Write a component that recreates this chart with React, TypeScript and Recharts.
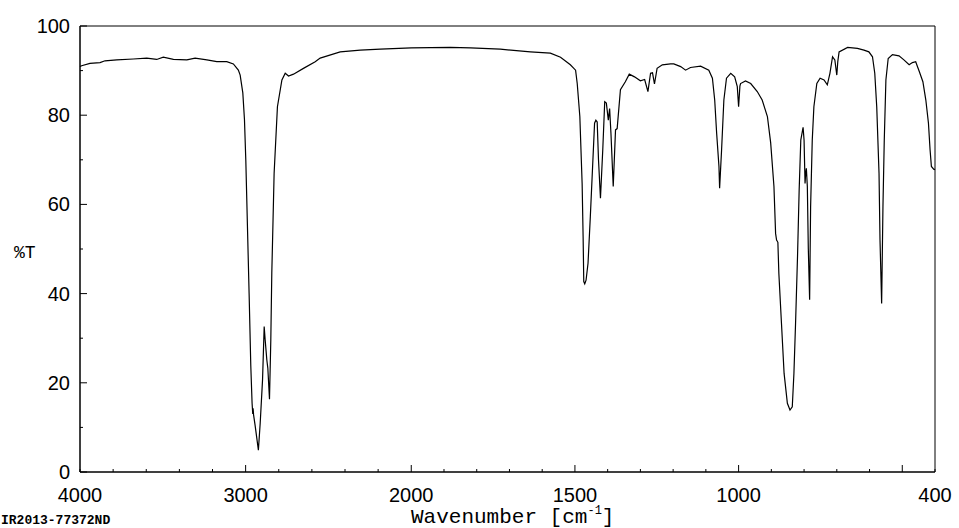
import { LineChart, Line, XAxis, YAxis, ReferenceArea } from "recharts";

// IR spectrum: [wavenumber cm-1, %T]
const baselineHigh: [number, number][] = [
  [4000, 90.9], [3990, 91.1], [3940, 91.6], [3879, 91.8], [3849, 92.2], [3778, 92.4],
  [3678, 92.6], [3597, 92.8], [3537, 92.5], [3497, 93.0], [3436, 92.5], [3355, 92.4],
  [3305, 92.8], [3234, 92.4], [3174, 92.0], [3114, 92.0], [3074, 91.5], [3044, 90.1],
];

const chStretch: [number, number][] = [
  [3033, 89], [3017, 85], [3007, 79], [2999, 70], [2989, 55], [2979, 40], [2969, 24],
  [2961, 15.4], [2957, 13.0], [2955, 14.3], [2952, 12.8], [2943, 10.5], [2923, 4.9],
  [2912, 11], [2898, 20.6], [2888, 32.6], [2882, 29.6], [2872, 25.1], [2866, 23.3],
  [2856, 16.3], [2848, 29.6], [2842, 44.6], [2828, 67], [2808, 81.9], [2781, 87.9],
  [2761, 89.4], [2741, 88.8], [2711, 89.2], [2651, 90.5], [2580, 92.0],
];

const midRange: [number, number][] = [
  [2550, 92.8], [2429, 94.2], [2308, 94.6], [2187, 94.8], [2000, 95.1], [1881, 95.2],
  [1819, 95.1], [1728, 94.8], [1636, 94.2], [1575, 93.9], [1544, 93.0], [1514, 91.3],
  [1498, 90.1],
];

const bendRegion: [number, number][] = [
  [1493, 87.1], [1485, 79.7], [1478, 64.7], [1475, 52.8], [1473, 42.7], [1470, 42.2],
  [1466, 43], [1460, 46.8], [1453, 57.2], [1446, 68.5], [1440, 78.2], [1436, 78.9],
  [1432, 78.5], [1428, 70], [1422, 61.4], [1415, 72.2], [1409, 83.0], [1404, 82.7],
  [1398, 78.9], [1394, 81.5], [1390, 76], [1383, 64.0], [1376, 76.7], [1371, 77],
  [1361, 85.7], [1346, 87.5], [1334, 89.2], [1318, 88.6], [1300, 87.7], [1287, 88],
  [1277, 85.3], [1269, 89.4], [1263, 89.5], [1257, 87], [1249, 90.5], [1233, 91.3],
  [1208, 91.5],
];

const midFingerprint: [number, number][] = [
  [1198, 91.5], [1177, 90.9], [1162, 90.1], [1147, 90.7], [1116, 91.0], [1091, 90.1],
  [1080, 88.3], [1073, 83.4], [1067, 75.9], [1060, 68.5], [1058, 63.6], [1052, 72.2],
  [1045, 83.4], [1037, 88.3], [1024, 89.4], [1012, 88.6], [1004, 86.4], [1000, 81.9],
  [996, 86.5], [994, 87.1], [979, 87.7], [963, 87.1], [943, 85.3], [928, 83.4],
  [912, 79.7], [902, 73.8], [892, 64],
];

const lowFingerprint: [number, number][] = [
  [887, 53.5], [884, 52], [880, 51.5], [877, 44.5], [869, 33.3], [861, 22.1], [851, 15.4],
  [843, 13.9], [836, 14.6], [831, 22.1], [826, 33.3], [820, 48.3], [815, 63.2], [810, 74.4],
  [803, 77.3], [800, 74.4], [797, 64.7], [795, 67], [793, 68.1], [790, 64], [787, 50],
  [783, 38.6], [780, 59.5], [775, 74.4], [770, 81.9], [761, 87.1], [751, 88.3], [739, 87.9],
  [729, 86.8], [721, 89.4], [713, 93.1], [706, 92.4], [700, 89], [697, 92], [693, 94.2],
  [667, 95.2], [637, 95.0], [617, 94.6], [602, 94.2], [591, 93.1], [584, 89.4], [578, 81.9],
  [571, 67], [568, 52], [563, 37.8], [559, 59.5], [555, 74.4], [550, 87.9], [543, 92.7],
  [530, 93.6], [510, 93.3], [495, 92.4], [479, 91.3], [469, 91.8], [459, 92.0], [448, 89.8],
  [437, 87.5], [428, 83.4], [420, 78.2], [415, 72.2], [411, 68.5], [404, 67.9], [400, 67.8],
];

const xTicksWn: number[] = [
  4000, 3800, 3600, 3400, 3200, 3000, 2800, 2600, 2400, 2200, 2000,
  1900, 1800, 1700, 1600, 1500, 1400, 1300, 1200, 1100, 1000,
  900, 800, 700, 600, 500, 400,
];
const xMajor = [3000, 2000, 1500, 1000, 500];
const xLabels = [4000, 3000, 2000, 1500, 1000, 400];

const yTicks = [0, 10, 20, 30, 40, 50, 60, 70, 80, 90, 100];
const yLabels = [0, 20, 40, 60, 80, 100];

// the instrument halves the scale above 2000 cm-1
const K = 0.506;
const toAxis = (wn: number) => (wn >= 2000 ? (4000 - wn) * K : 2000 * K + (2000 - wn));
const fromAxis = (p: number) => (p <= 2000 * K ? 4000 - p / K : 2000 - (p - 2000 * K));

const data = [
  ...baselineHigh,
  ...chStretch,
  ...midRange,
  ...bendRegion,
  ...midFingerprint,
  ...lowFingerprint,
].map(([wn, t]) => ({ pos: toAxis(wn), t }));

const tickFont = "'Liberation Sans', Arial, sans-serif";
const monoFont = "'Liberation Mono', 'Courier New', monospace";

function XTick({ x, y, payload }: any) {
  const wn = Math.round(fromAxis(payload.value));
  const len = xMajor.includes(wn) ? 7 : 3;
  return (
    <g>
      <line x1={x} x2={x} y1={y} y2={y - len} stroke="#000" />
      {xLabels.includes(wn) && (
        <text x={x} y={y + 30} textAnchor="middle" fontFamily={tickFont} fontSize={20} fill="#000">
          {wn}
        </text>
      )}
    </g>
  );
}

function YTick({ x, y, payload }: any) {
  const v = payload.value;
  const major = yLabels.includes(v);
  return (
    <g>
      <line x1={x} x2={x + (major ? 7 : 3)} y1={y} y2={y} stroke="#000" />
      {major && (
        <text x={x - 10} y={y + 7} textAnchor="end" fontFamily={tickFont} fontSize={20} fill="#000">
          {v}
        </text>
      )}
    </g>
  );
}

export default function App() {
  const maxPos = toAxis(400);
  return (
    <div style={{ position: "absolute", left: 0, top: 0, width: 959, height: 528, background: "#fff" }}>
      <LineChart width={959} height={528} data={data} margin={{ top: 26, right: 24, bottom: 0, left: 0 }}>
        <XAxis
          dataKey="pos"
          type="number"
          domain={[0, maxPos]}
          ticks={xTicksWn.map(toAxis)}
          interval={0}
          tick={<XTick />}
          tickLine={false}
          tickSize={0}
          tickMargin={0}
          height={56}
          axisLine={{ stroke: "#000" }}
        />
        <YAxis
          type="number"
          domain={[0, 100]}
          ticks={yTicks}
          interval={0}
          tick={<YTick />}
          tickLine={false}
          tickSize={0}
          tickMargin={0}
          width={80}
          axisLine={{ stroke: "#000" }}
        />
        <ReferenceArea x1={0} x2={maxPos} y1={0} y2={100} fill="none" stroke="#000" strokeWidth={1} />
        <Line
          type="linear"
          dataKey="t"
          stroke="#000"
          strokeWidth={1.2}
          dot={false}
          isAnimationActive={false}
        />
      </LineChart>
      <svg
        width={959}
        height={528}
        style={{ position: "absolute", left: 0, top: 0, pointerEvents: "none" }}
      >
        <text x={14} y={258} fontFamily={monoFont} fontSize={18} fill="#000">%T</text>
        <text x={411} y={523} fontFamily={monoFont} fontSize={21} fill="#000">
          Wavenumber [cm
          <tspan fontSize={12} dy={-9}>-1</tspan>
          <tspan dy={9}>]</tspan>
        </text>
        <text x={1} y={524} fontFamily={monoFont} fontSize={13} fontWeight="bold" fill="#000">
          IR2013-77372ND
        </text>
      </svg>
    </div>
  );
}
